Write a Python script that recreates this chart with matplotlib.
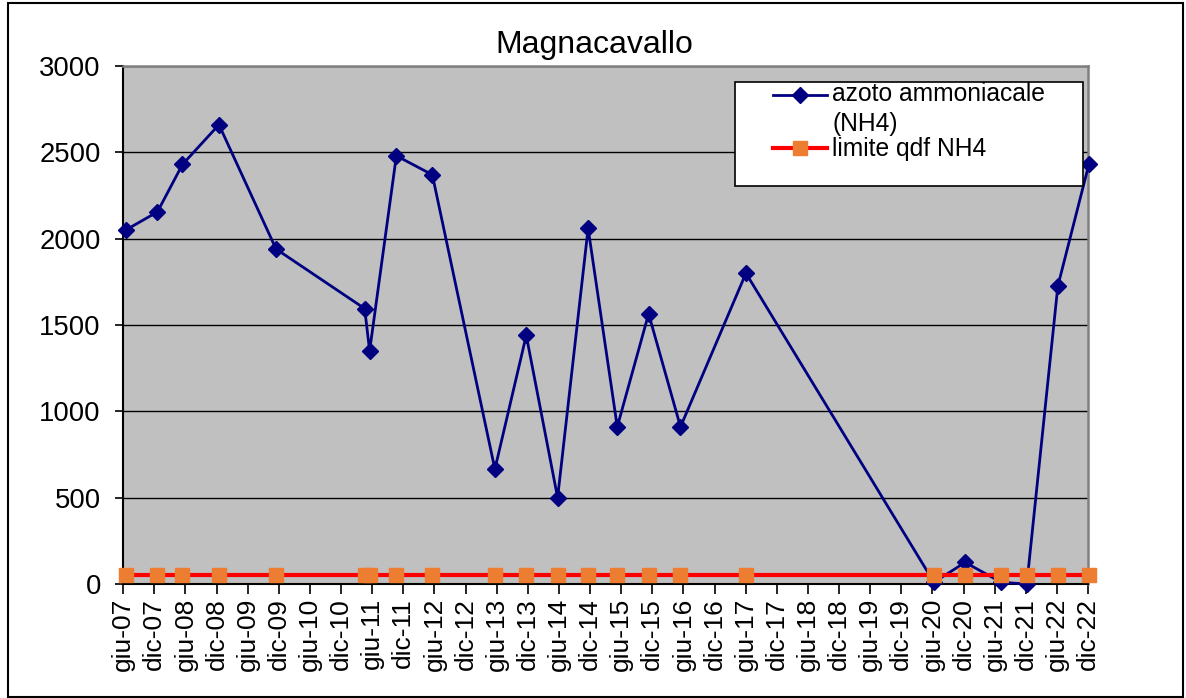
import numpy as np
import pandas as pd
import matplotlib
matplotlib.use("Agg")
import matplotlib.pyplot as plt
from matplotlib.lines import Line2D
from matplotlib.patches import Rectangle

plt.rcParams['font.family'] = ['Liberation Sans', 'DejaVu Sans']

# sampling dates and NH4 values
sample_dates = ['2007-06-17', '2007-12-20', '2008-05-15', '2008-12-15',
                '2009-11-15', '2011-04-19', '2011-05-18', '2011-10-22',
                '2012-05-20', '2013-05-22', '2013-11-22', '2014-05-25',
                '2014-11-20', '2015-05-10', '2015-11-10', '2016-05-15',
                '2017-06-03', '2020-06-10', '2020-12-10', '2021-07-10',
                '2021-12-07', '2022-06-07', '2022-12-06']
nh4 = [2050, 2155, 2430, 2660, 1940, 1595, 1350, 2480, 2370, 665, 1440,
       500, 2060, 910, 1565, 910, 1800, 10, 125, 10, 0, 1725, 2430]
limite = [50, 50, 50, 50, 50, 50, 50, 50, 50, 50, 50, 50,
          50, 50, 50, 50, 50, 50, 50, 50, 50, 50, 50]

title = "Magnacavallo"
label_nh4 = ["azoto ammoniacale", "(NH4)"]
label_lim = "limite qdf NH4"

years = list(range(2007, 2023))
tick_dates = []
tick_labels = []
for y in years:
    tick_dates += [pd.Timestamp(y, 6, 1), pd.Timestamp(y, 12, 1)]
    tick_labels += ["giu-%02d" % (y % 100), "dic-%02d" % (y % 100)]

y_ticks = [0, 500, 1000, 1500, 2000, 2500, 3000]

W, H = 1186, 698
fig = plt.figure(figsize=(W / 100, H / 100), dpi=100)
fig.patch.set_facecolor('white')

# axes placed in pixel coordinates
left, right, top, bottom = 123, 1088, 66, 584
ax = fig.add_axes([left / W, 1 - bottom / H, (right - left) / W, (bottom - top) / H])
ax.set_facecolor('#c0c0c0')

x = pd.to_datetime(sample_dates)

ax.plot(x, nh4, color='#000080', lw=2.0, marker='D', ms=8.5,
        mec='#000080', mfc='#000080', clip_on=False, zorder=3)
ax.plot(x, limite, color='#ff0000', lw=3, marker='s', ms=10,
        mec='#ed7d31', mfc='#ed7d31', clip_on=False, zorder=4)

ax.set_xlim(tick_dates[0], tick_dates[-1])
ax.set_ylim(0, 3000)
ax.set_xticks(tick_dates)
ax.set_xticklabels(tick_labels, rotation=90, fontsize=19)
ax.set_yticks(y_ticks)
ax.set_yticklabels([str(v) for v in y_ticks], fontsize=19.8)
ax.tick_params(axis='x', length=7, width=1.2, pad=3, color='black')
ax.tick_params(axis='y', length=6, width=1.2, pad=10, color='black')

ax.yaxis.grid(True, color='black', lw=1.0)
ax.set_axisbelow(True)

for s in ['top', 'right']:
    ax.spines[s].set_color('#808080')
    ax.spines[s].set_linewidth(1.8)
for s in ['left', 'bottom']:
    ax.spines[s].set_color('black')
    ax.spines[s].set_linewidth(1.5)

# title centred on chart area
fig.text(594 / W, 1 - 53 / H, title, ha='center', va='baseline', fontsize=23)

# Excel-style legend box, handle aligned with the first text line
lx0, lx1, ly0, ly1 = 735, 1083, 82, 186
fig.patches.append(Rectangle((lx0 / W, 1 - ly1 / H), (lx1 - lx0) / W, (ly1 - ly0) / H,
                             transform=fig.transFigure, facecolor='white',
                             edgecolor='black', lw=1.2, zorder=5))
fig.lines.append(Line2D([773 / W, 800 / W, 827 / W], [1 - 95 / H] * 3,
                        transform=fig.transFigure, color='#000080', lw=2.0,
                        marker='D', ms=8.5, markevery=[1], zorder=6))
fig.lines.append(Line2D([773 / W, 800 / W, 827 / W], [1 - 148 / H] * 3,
                        transform=fig.transFigure, color='#ff0000', lw=3,
                        marker='s', ms=10, mec='#ed7d31', mfc='#ed7d31',
                        markevery=[1], zorder=6))
fig.text(832 / W, 1 - 101 / H, label_nh4[0], ha='left',
         va='baseline', fontsize=17.7, zorder=7)
fig.text(832 / W, 1 - 131 / H, label_nh4[1], ha='left',
         va='baseline', fontsize=17.7, zorder=7)
fig.text(832 / W, 1 - 156 / H, label_lim, ha='left',
         va='baseline', fontsize=17.7, zorder=7)

# outer chart border
fig.patches.append(Rectangle((8 / W, 1 / H), (1183 - 8) / W, (H - 4) / H,
                             transform=fig.transFigure, facecolor='none',
                             edgecolor='black', lw=1.5, zorder=10))

fig.savefig("out.png", dpi=100)
